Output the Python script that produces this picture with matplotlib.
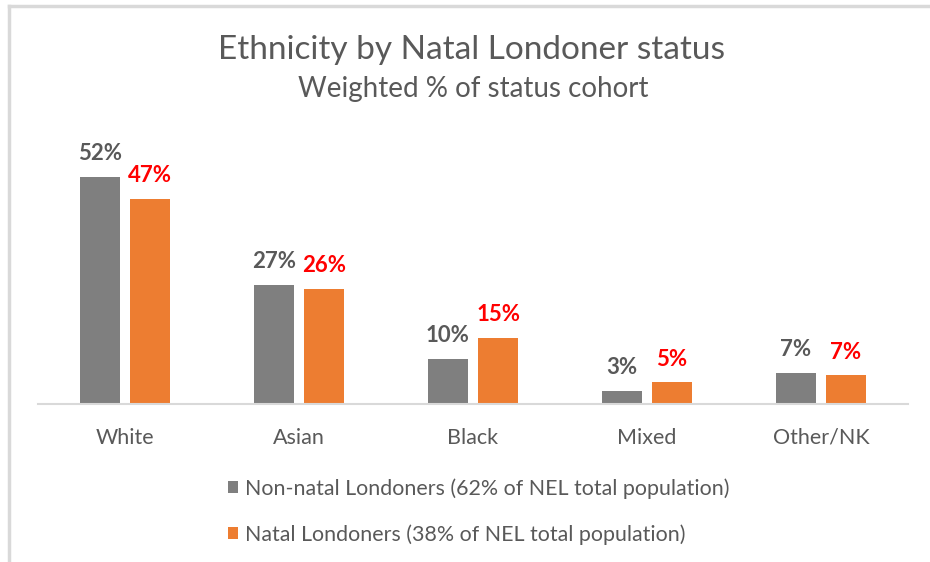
import matplotlib
matplotlib.use("Agg")
import matplotlib.pyplot as plt
import numpy as np

plt.rcParams['font.family'] = ['Lato', 'DejaVu Sans']

categories = ['White', 'Asian', 'Black', 'Mixed', 'Other/NK']
non_natal = [52.0, 27.3, 10.3, 3.0, 7.1]
natal = [47.0, 26.3, 15.1, 5.0, 6.6]
series_names = ['Non-natal Londoners (62% of NEL total population)',
                'Natal Londoners (38% of NEL total population)']

grey = '#7f7f7f'
orange = '#ed7d31'
text_col = '#595959'

fig = plt.figure(figsize=(9.3, 5.62), dpi=100)
ax = fig.add_axes([38/930, 1-404/562, 870/930, 262/562])

x = np.arange(len(categories))
w = 0.23
b1 = ax.bar(x - 0.144, non_natal, w, color=grey)
b2 = ax.bar(x + 0.144, natal, w, color=orange)

for rect, v in zip(b1, non_natal):
    ax.text(rect.get_x() + rect.get_width()/2, v + 2.9, f'{round(v)}%',
            ha='center', va='bottom', fontsize=16, fontweight='bold', color=text_col)
for rect, v in zip(b2, natal):
    ax.text(rect.get_x() + rect.get_width()/2, v + 2.9, f'{round(v)}%',
            ha='center', va='bottom', fontsize=16, fontweight='bold', color='#ff0000')

ax.set_xlim(-0.5, 4.5)
ax.set_ylim(0, 60)
ax.set_xticks(x)
ax.set_xticklabels(categories, fontsize=15.5, color=text_col)
ax.tick_params(axis='x', length=0, pad=17)
ax.set_yticks([])
for s in ['top', 'right', 'left']:
    ax.spines[s].set_visible(False)
ax.spines['bottom'].set_color('#d9d9d9')
ax.spines['bottom'].set_linewidth(1.5)

fig.text(471/930, 1-50/562, 'Ethnicity by Natal Londoner status', ha='center', va='center',
         fontsize=24, color=text_col)
fig.text(473/930, 1-89/562, 'Weighted % of status cohort', ha='center', va='center',
         fontsize=20, color=text_col)

leg = fig.legend([b1, b2], series_names, loc='upper left', bbox_to_anchor=(228/930, 1-478/562),
                 frameon=False, fontsize=15.4, labelcolor=text_col, handlelength=0.45,
                 handleheight=0.45, handletextpad=0.35, labelspacing=1.2,
                 borderpad=0, borderaxespad=0)

# outer chart border (top and left)
fig.add_artist(plt.Line2D([9/930, 1], [1-6/562, 1-6/562], color='#d9d9d9', lw=2.5))
fig.add_artist(plt.Line2D([9/930, 9/930], [0, 1-6/562], color='#d9d9d9', lw=2.5))

fig.savefig('out.png', dpi=100)
